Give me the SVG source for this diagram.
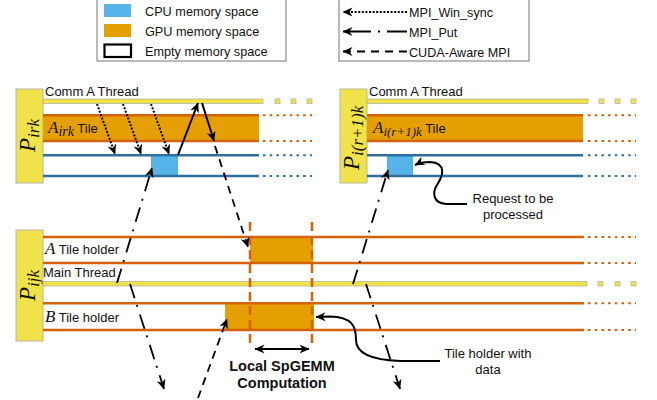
<svg xmlns="http://www.w3.org/2000/svg" width="657" height="400" viewBox="0 0 657 400">
<defs>
<marker id="ah" viewBox="0 0 10 10" refX="9.5" refY="5" markerWidth="10" markerHeight="10" markerUnits="userSpaceOnUse" orient="auto-start-reverse"><path d="M0,0.5 L10,5 L0,9.5 L3,5 z" fill="#000"/></marker>
</defs>
<style>
.sans{font-family:"Liberation Sans",Arial,sans-serif;fill:#111}
.math{font-family:"Liberation Serif","Times New Roman",serif;font-style:italic;fill:#111}
.proc{fill:#efe24a;stroke:#b8b69c;stroke-width:1}
.thread{fill:#efe24a;stroke:#b8b69c;stroke-width:0.8}
.gpu{fill:#e69f00}
.cpu{fill:#56b4e9}
.oline{stroke:#d4620a;stroke-width:2.4;fill:none}
.odot{stroke:#d4620a;stroke-width:2;stroke-dasharray:2.5 4.2;fill:none}
.bline{stroke:#2f6f9e;stroke-width:2.4;fill:none}
.bdot{stroke:#2f6f9e;stroke-width:2;stroke-dasharray:2.5 4.2;fill:none}
.dot{stroke:#000;stroke-width:2;stroke-dasharray:2 1.6;fill:none}
.dashdot{stroke:#000;stroke-width:1.8;stroke-dasharray:15 7 2 8;fill:none}
.dash{stroke:#000;stroke-width:1.8;stroke-dasharray:8 6;fill:none}
.solid{stroke:#000;stroke-width:2;fill:none}
.vdash{stroke:#d4620a;stroke-width:2.5;stroke-dasharray:9 5;fill:none}
.lbox{fill:#fff;stroke:#777;stroke-width:1}
</style>

<g id="legend-memory">
<rect class="lbox" x="97" y="-1" width="189" height="62"/>
<rect class="cpu" x="104" y="4" width="27" height="13"/>
<rect class="gpu" x="104" y="24" width="27" height="13"/>
<rect x="104.5" y="44.5" width="26.5" height="12.5" fill="#fff" stroke="#000" stroke-width="2.2"/>
<text class="sans" x="145" y="15.5" font-size="12.7">CPU memory space</text>
<text class="sans" x="145" y="35.5" font-size="12.7">GPU memory space</text>
<text class="sans" x="145" y="55.5" font-size="12.7">Empty memory space</text>
</g>

<g id="legend-arrows">
<rect class="lbox" x="339" y="-1" width="190" height="62"/>
<path class="dot" d="M407,12 L343,12" marker-end="url(#ah)"/>
<path d="M407,31.5 L343,31.5" stroke="#000" stroke-width="1.8" stroke-dasharray="20 7 2 7 40" fill="none" marker-end="url(#ah)"/>
<path class="dash" d="M407,51.5 L343,51.5" marker-end="url(#ah)"/>
<text class="sans" x="409" y="17" font-size="12.6">MPI_Win_sync</text>
<text class="sans" x="409" y="36.5" font-size="12.6">MPI_Put</text>
<text class="sans" x="409" y="56.5" font-size="12.6">CUDA-Aware MPI</text>
</g>

<g id="P_irk">
<rect class="proc" x="16" y="89" width="27" height="94"/>
<text class="math" transform="translate(35,152) rotate(-90)" font-size="23">P<tspan font-size="17" dy="4">irk</tspan></text>
<text class="sans" x="45" y="96" font-size="13">Comm A Thread</text>
<rect class="thread" x="43" y="99" width="220" height="4.5"/>
<rect class="thread" x="275" y="99" width="5" height="4.5"/>
<rect class="thread" x="291" y="99" width="5" height="4.5"/>
<rect class="thread" x="307" y="99" width="5" height="4.5"/>
<rect class="gpu" x="43" y="114" width="216" height="28"/>
<path class="oline" d="M43,115.2 H259 M43,141 H259"/>
<path class="odot" d="M263,115.2 H312 M263,141 H312"/>
<text x="48" y="133"><tspan class="math" font-size="17">A</tspan><tspan class="math" font-size="14" dy="3">irk</tspan><tspan class="sans" font-size="13" dy="-3"> Tile</tspan></text>
<rect class="cpu" x="151" y="155" width="27" height="21"/>
<path class="bline" d="M43,155.3 H259 M43,176 H259"/>
<path class="bdot" d="M263,155.3 H312 M263,176 H312"/>
</g>

<g id="P_ir1k">
<rect class="proc" x="340" y="89" width="27" height="94"/>
<text class="math" transform="translate(359,170) rotate(-90)" font-size="23">P<tspan font-size="17" dy="4">i(r+1)k</tspan></text>
<text class="sans" x="369" y="96" font-size="13">Comm A Thread</text>
<rect class="thread" x="367" y="99" width="221" height="4.5"/>
<rect class="thread" x="599" y="99" width="5" height="4.5"/>
<rect class="thread" x="615" y="99" width="5" height="4.5"/>
<rect class="thread" x="631" y="99" width="5" height="4.5"/>
<rect class="gpu" x="367" y="114" width="216" height="28"/>
<path class="oline" d="M367,115.2 H583 M367,141 H583"/>
<path class="odot" d="M588,115.2 H636 M588,141 H636"/>
<text x="373" y="133"><tspan class="math" font-size="17">A</tspan><tspan class="math" font-size="13" dy="3">i(r+1)k</tspan><tspan class="sans" font-size="13" dy="-3"> Tile</tspan></text>
<rect class="cpu" x="387" y="155" width="26" height="21"/>
<path class="bline" d="M367,155.3 H583 M367,176 H583"/>
<path class="bdot" d="M588,155.3 H636 M588,176 H636"/>
</g>

<g id="P_ijk">
<rect class="proc" x="16" y="230" width="27" height="111"/>
<text class="math" transform="translate(35,301) rotate(-90)" font-size="23">P<tspan font-size="17" dy="4">ijk</tspan></text>
<rect class="gpu" x="250" y="237" width="63" height="26"/>
<rect class="gpu" x="225" y="303" width="89" height="27"/>
<path class="oline" d="M43,237 H584 M43,263 H584 M43,303.3 H584 M43,330 H584"/>
<path class="odot" d="M588,237 H636 M588,263 H636 M588,303.3 H636 M588,330 H636"/>
<rect class="thread" x="43" y="281.5" width="544" height="4.5"/>
<rect class="thread" x="598" y="281.5" width="5" height="4.5"/>
<rect class="thread" x="615" y="281.5" width="5" height="4.5"/>
<rect class="thread" x="631" y="281.5" width="5" height="4.5"/>
<text x="45" y="254"><tspan class="math" font-size="17">A</tspan><tspan class="sans" font-size="13"> Tile holder</tspan></text>
<text class="sans" x="43" y="277" font-size="13">Main Thread</text>
<text x="45" y="322"><tspan class="math" font-size="17">B</tspan><tspan class="sans" font-size="13"> Tile holder</tspan></text>
<path class="vdash" d="M250,222 V346 M312,222 V346"/>
</g>

<g id="computation">
<path class="solid" d="M255,349 H309" marker-start="url(#ah)" marker-end="url(#ah)"/>
<text class="sans" x="282" y="371" font-size="14.5" font-weight="bold" text-anchor="middle">Local SpGEMM</text>
<text class="sans" x="282" y="388" font-size="14.5" font-weight="bold" text-anchor="middle">Computation</text>
</g>

<g id="annotations">
<text class="sans" x="488" y="358" font-size="13" text-anchor="middle">Tile holder with</text>
<text class="sans" x="488" y="374" font-size="13" text-anchor="middle">data</text>
<text class="sans" x="513" y="203" font-size="13" text-anchor="middle">Request to be</text>
<text class="sans" x="513" y="219" font-size="13" text-anchor="middle">processed</text>
<path class="solid" d="M440,361 L400,361 C372,360 356,353 356,340 C356,326 352,317 330,316.5 L316,317" marker-end="url(#ah)"/>
<path class="solid" d="M467,204 L446,204 C433,203 432,193 437,185 C443,176 447,163 430,162 C424,162 419,163 415,165" marker-end="url(#ah)"/>
</g>

<g id="connectors">
<path class="dot" d="M97,104 L115,154" marker-end="url(#ah)"/>
<path class="dot" d="M123,104 L141,154" marker-end="url(#ah)"/>
<path class="dot" d="M151,104 L169,154" marker-end="url(#ah)"/>
<path class="solid" d="M178,155 L198,103" marker-end="url(#ah)"/>
<path class="solid" d="M202,103 L214,141" marker-end="url(#ah)"/>
<path class="dash" d="M215,146 L248,247" marker-end="url(#ah)"/>
<path class="dashdot" d="M117,283 L152,168" marker-end="url(#ah)"/>
<path class="dashdot" d="M130,284 L164,389" marker-end="url(#ah)"/>
<path class="dashdot" d="M353,284 L388,170" marker-end="url(#ah)"/>
<path class="dashdot" d="M366,284 L400,389" marker-end="url(#ah)"/>
<path class="dash" d="M198,398 L227,319" marker-end="url(#ah)"/>
</g>
</svg>
